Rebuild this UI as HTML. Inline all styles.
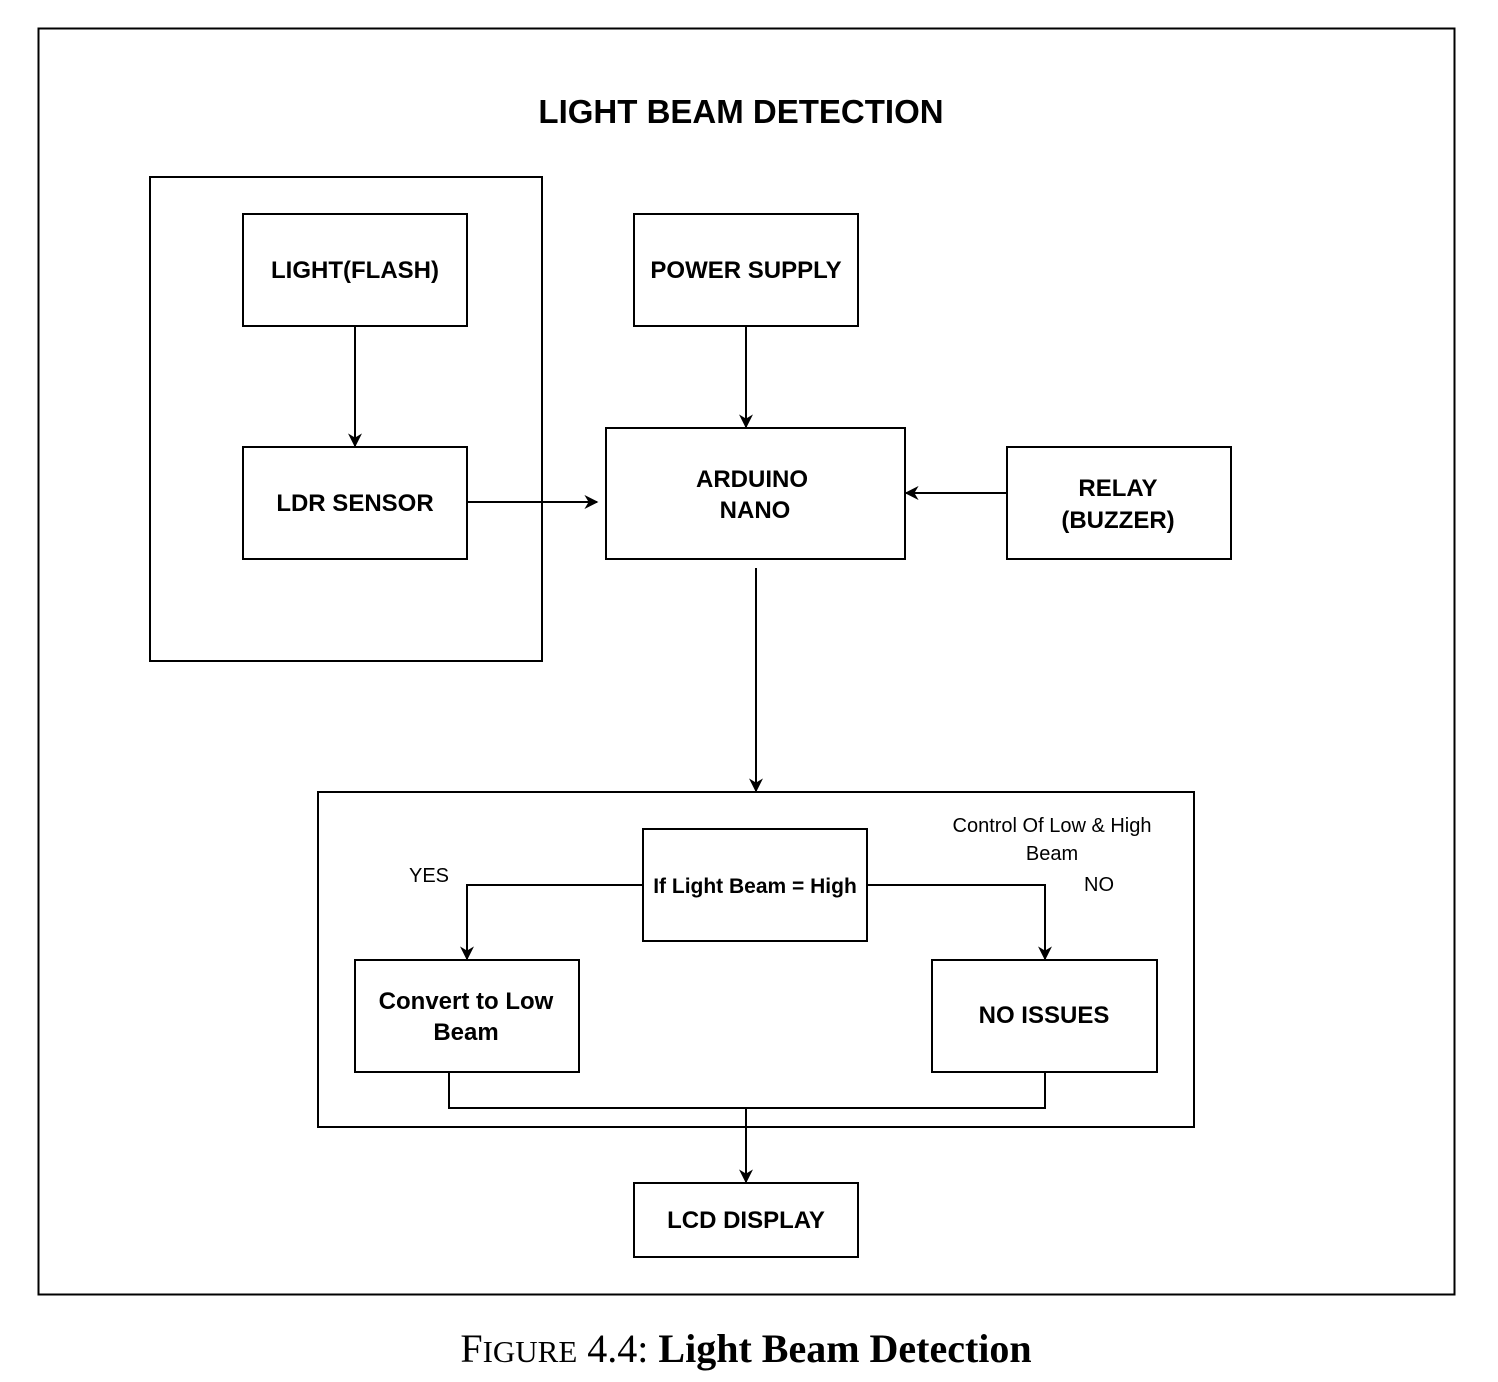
<!DOCTYPE html>
<html><head><meta charset="utf-8"><style>
html,body{margin:0;padding:0;background:#fff;}
svg{display:block;}
text{font-family:"Liberation Sans",sans-serif;fill:#000;}
.b{font-weight:bold;font-size:24px;}
</style></head><body>
<svg width="1498" height="1382" viewBox="0 0 1498 1382" xmlns="http://www.w3.org/2000/svg">
<defs>
<marker id="m" viewBox="0 0 10 10" refX="9" refY="5" markerWidth="14" markerHeight="14" markerUnits="userSpaceOnUse" orient="auto"><path d="M0,0 L10,5 L0,10 L3,5 z" fill="#000"/></marker></defs>
<g fill="none" stroke="#000">
<rect x="38.5" y="28.5" width="1416" height="1266" stroke-width="2"/>
<rect x="150" y="177" width="392" height="484" stroke-width="2"/>
<rect x="243" y="214" width="224" height="112" stroke-width="2"/>
<rect x="243" y="447" width="224" height="112" stroke-width="2"/>
<rect x="634" y="214" width="224" height="112" stroke-width="2"/>
<rect x="606" y="428" width="299" height="131" stroke-width="2"/>
<rect x="1007" y="447" width="224" height="112" stroke-width="2"/>
<rect x="318" y="792" width="876" height="335" stroke-width="2"/>
<rect x="643" y="829" width="224" height="112" stroke-width="2"/>
<rect x="355" y="960" width="224" height="112" stroke-width="2"/>
<rect x="932" y="960" width="225" height="112" stroke-width="2"/>
<rect x="634" y="1183" width="224" height="74" stroke-width="2"/>
<g stroke-width="2">
<path d="M355 326 V446" marker-end="url(#m)"/>
<path d="M467 502 H597" marker-end="url(#m)"/>
<path d="M746 326 V427" marker-end="url(#m)"/>
<path d="M1007 493 H906" marker-end="url(#m)"/>
<path d="M756 568 V791" marker-end="url(#m)"/>
<path d="M643 885 H467 V959" marker-end="url(#m)"/>
<path d="M867 885 H1045 V959" marker-end="url(#m)"/>
<path d="M449 1072 V1108 H1045 V1072"/>
<path d="M746 1108 V1182" marker-end="url(#m)"/>
</g></g>
<text x="741" y="123" text-anchor="middle" font-weight="bold" font-size="33">LIGHT BEAM DETECTION</text>
<text class="b" x="355" y="278" text-anchor="middle">LIGHT(FLASH)</text>
<text class="b" x="355" y="511" text-anchor="middle">LDR SENSOR</text>
<text class="b" x="746" y="278" text-anchor="middle">POWER SUPPLY</text>
<text class="b" x="752" y="487" text-anchor="middle">ARDUINO</text>
<text class="b" x="755" y="518" text-anchor="middle">NANO</text>
<text class="b" x="1118" y="496" text-anchor="middle">RELAY</text>
<text class="b" x="1118" y="528" text-anchor="middle">(BUZZER)</text>
<text x="755" y="893" text-anchor="middle" font-weight="bold" font-size="21">If Light Beam = High</text>
<text class="b" x="466" y="1009" text-anchor="middle">Convert to Low</text>
<text class="b" x="466" y="1040" text-anchor="middle">Beam</text>
<text class="b" x="1044" y="1023" text-anchor="middle">NO ISSUES</text>
<text class="b" x="746" y="1228" text-anchor="middle">LCD DISPLAY</text>
<text x="1052" y="832" text-anchor="middle" font-size="20">Control Of Low &amp; High</text>
<text x="1052" y="860" text-anchor="middle" font-size="20">Beam</text>
<text x="429" y="882" text-anchor="middle" font-size="20">YES</text>
<text x="1099" y="891" text-anchor="middle" font-size="20">NO</text>
<text x="746" y="1362" text-anchor="middle" font-size="40" style="font-family:'Liberation Serif',serif">F<tspan font-size="31">IGURE</tspan> 4.4: <tspan font-weight="bold">Light Beam Detection</tspan></text>
</svg>
</body></html>
